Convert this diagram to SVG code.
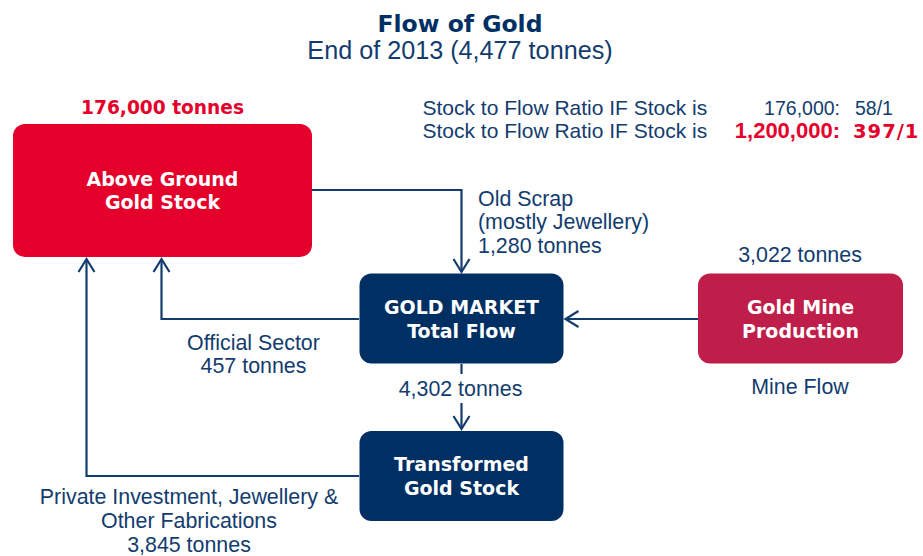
<svg xmlns="http://www.w3.org/2000/svg" width="923" height="556" viewBox="0 0 923 556">
<style>
.t{font-family:"Liberation Sans",Arial,sans-serif;font-size:21.4px;fill:#123c6e}
.c{text-anchor:middle}
.b{font-family:"DejaVu Sans","Liberation Sans",sans-serif;font-weight:bold;font-size:19px;fill:#ffffff;text-anchor:middle}
.red{fill:#e4002b}
.navy{fill:#002f63}
.line{fill:none;stroke:#123c6e;stroke-width:2.2}
</style>
<defs>
<marker id="arr" viewBox="-15 -10 18 20" refX="0" refY="0" markerWidth="18" markerHeight="20" markerUnits="userSpaceOnUse" orient="auto">
<path d="M-13,-8 L0,0 L-13,8" fill="none" stroke="#123c6e" stroke-width="2.2"/>
</marker>
</defs>
<rect width="923" height="556" fill="#ffffff"/>
<g id="title">
<text x="460" y="31.5" style="font-family:'DejaVu Sans',sans-serif;font-weight:bold;font-size:23.5px;fill:#002f63;text-anchor:middle">Flow of Gold</text>
<text x="460" y="59" class="t c" style="font-size:25.2px">End of 2013 (4,477 tonnes)</text>
</g>
<g id="ratios">
<text x="422.5" y="115" class="t" style="font-size:21px">Stock to Flow Ratio IF Stock is</text>
<text x="840" y="115" class="t" style="text-anchor:end;font-size:19.5px">176,000:</text>
<text x="855" y="115" class="t" style="font-size:19.5px">58/1</text>
<text x="422.5" y="138" class="t" style="font-size:21px">Stock to Flow Ratio IF Stock is</text>
<text x="840" y="138" style="font-family:'Liberation Sans',Arial,sans-serif;font-weight:bold;font-size:22px;fill:#e4002b;text-anchor:end">1,200,000:</text>
<text x="853" y="138" style="font-family:'DejaVu Sans',sans-serif;font-weight:bold;font-size:19.5px;fill:#e4002b;letter-spacing:1px">397/1</text>
</g>
<g id="connectors">
<path class="line" d="M312,190 H461.5 V272" marker-end="url(#arr)"/>
<path class="line" d="M359,319 H161.5 V259" marker-end="url(#arr)"/>
<path class="line" d="M359,476 H86.5 V259" marker-end="url(#arr)"/>
<path class="line" d="M698,319 H565.5" marker-end="url(#arr)"/>
<path class="line" d="M461.5,364 V374"/>
<path class="line" d="M461.5,403 V429" marker-end="url(#arr)"/>
</g>
<g id="labels">
<text x="478" y="206" class="t">Old Scrap</text>
<text x="478" y="229" class="t">(mostly Jewellery)</text>
<text x="478" y="252.5" class="t">1,280 tonnes</text>
<text x="800" y="262" class="t c">3,022 tonnes</text>
<text x="800" y="394" class="t c">Mine Flow</text>
<text x="253.5" y="350" class="t c">Official Sector</text>
<text x="253.5" y="373" class="t c">457 tonnes</text>
<text x="460.5" y="396" class="t c">4,302 tonnes</text>
<text x="189" y="504" class="t c">Private Investment, Jewellery &amp;</text>
<text x="189" y="528" class="t c">Other Fabrications</text>
<text x="189" y="552" class="t c">3,845 tonnes</text>
</g>
<g id="above-ground">
<text x="162.5" y="114" style="font-family:'DejaVu Sans',sans-serif;font-weight:bold;font-size:18.6px;fill:#e4002b;text-anchor:middle">176,000 tonnes</text>
<rect x="13" y="124" width="299" height="133" rx="12" class="red"/>
<text x="162.5" y="185.5" class="b">Above Ground</text>
<text x="162.5" y="209" class="b">Gold Stock</text>
</g>
<g id="gold-market">
<rect x="359.5" y="273.5" width="204" height="90" rx="12" class="navy"/>
<text x="461.5" y="314" class="b">GOLD MARKET</text>
<text x="461.5" y="337.5" class="b">Total Flow</text>
</g>
<g id="gold-mine">
<rect x="698" y="273.5" width="205" height="90" rx="12" fill="#c01e4a"/>
<text x="800.5" y="314" class="b">Gold Mine</text>
<text x="800.5" y="337.5" class="b">Production</text>
</g>
<g id="transformed">
<rect x="359.5" y="431" width="204" height="90" rx="12" class="navy"/>
<text x="461.5" y="471" class="b">Transformed</text>
<text x="461.5" y="494.5" class="b">Gold Stock</text>
</g>
</svg>
